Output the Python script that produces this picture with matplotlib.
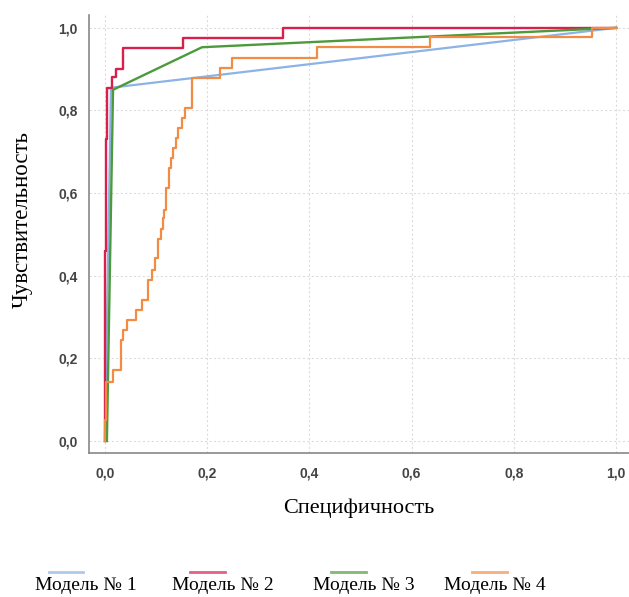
import matplotlib.pyplot as plt
from matplotlib.lines import Line2D

# ROC curves (1 - specificity, sensitivity)
m1_x = [0.0, 0.012, 1.0]
m1_y = [0.0, 0.855, 1.0]

m2_x = [0.0, 0.0, 0.003, 0.005, 0.014, 0.021, 0.035, 0.153, 0.348, 1.0]
m2_y = [0.0, 0.46, 0.73, 0.855, 0.88, 0.90, 0.95, 0.976, 1.0, 1.0]

m3_x = [0.004, 0.016, 0.19, 1.0]
m3_y = [0.0, 0.85, 0.953, 1.0]

m4_x = [0.0, 0.0, 0.003, 0.015, 0.031, 0.035, 0.043, 0.060, 0.072, 0.084,
        0.092, 0.098, 0.104, 0.110, 0.113, 0.115, 0.120, 0.125, 0.130, 0.134,
        0.139, 0.143, 0.151, 0.157, 0.171, 0.225, 0.248, 0.415, 0.636, 0.953, 1.0]
m4_y = [0.0, 0.05, 0.143, 0.172, 0.245, 0.269, 0.293, 0.317, 0.341, 0.390,
        0.414, 0.443, 0.489, 0.513, 0.540, 0.560, 0.612, 0.660, 0.685, 0.709,
        0.734, 0.758, 0.782, 0.806, 0.879, 0.903, 0.927, 0.954, 0.978, 1.0, 1.0]

labels = ["Модель № 1", "Модель № 2", "Модель № 3", "Модель № 4"]
colors = ["#8db3e6", "#d8204c", "#4d9a3c", "#f28c45"]
ticks = [0.0, 0.2, 0.4, 0.6, 0.8, 1.0]
tick_labels = ["0,0", "0,2", "0,4", "0,6", "0,8", "1,0"]

fig = plt.figure(figsize=(6.29, 5.97), dpi=100)
ax = fig.add_axes([89 / 629, 1 - 453 / 597, 1 - 89 / 629, (453 - 15) / 597])

ax.plot(m1_x, m1_y, color=colors[0], lw=1.6)
ax.plot(m2_x, m2_y, color=colors[1], lw=1.7, drawstyle="steps-post")
ax.plot(m3_x, m3_y, color=colors[2], lw=1.7)
ax.plot(m4_x, m4_y, color=colors[3], lw=1.6, drawstyle="steps-post")

ax.set_xlim(-0.031, 1.025)
ax.set_ylim(-0.029, 1.031)
ax.set_xticks(ticks)
ax.set_yticks(ticks)
ax.set_xticklabels(tick_labels)
ax.set_yticklabels(tick_labels)
ax.tick_params(length=0, labelsize=10, labelcolor="#444444")
ax.tick_params(axis="x", pad=10)
ax.tick_params(axis="y", pad=8)
for lab in ax.get_xticklabels() + ax.get_yticklabels():
    lab.set_fontweight("bold")
    lab.set_family("Liberation Sans")
ax.grid(True, color="#dcdcdc", linestyle=(0, (2, 2)), lw=0.8)
ax.set_axisbelow(True)
for s in ["top", "right"]:
    ax.spines[s].set_visible(False)
for s in ["left", "bottom"]:
    ax.spines[s].set_color("#888888")
    ax.spines[s].set_linewidth(1.2)

ax.set_xlabel("Специфичность", family="Liberation Serif", fontsize=16, labelpad=13)
fig.text(22 / 629, 1 - 220 / 597, "Чувствительность", family="Liberation Serif",
         fontsize=16.5, rotation=90, ha="center", va="center")

# legend: short line above each label
line_x = [(49, 83), (190, 225), (331, 366), (472, 507)]
text_x = [86, 223, 364, 495]
for i in range(4):
    x0, x1 = line_x[i]
    fig.add_artist(Line2D([x0 / 629, x1 / 629], [1 - 572 / 597] * 2,
                          color=colors[i], lw=2, alpha=0.7,
                          transform=fig.transFigure))
    fig.text(text_x[i] / 629, 1 - 585 / 597, labels[i], family="Liberation Serif",
             fontsize=14, ha="center", va="center")

fig.savefig("out.png", dpi=100)
